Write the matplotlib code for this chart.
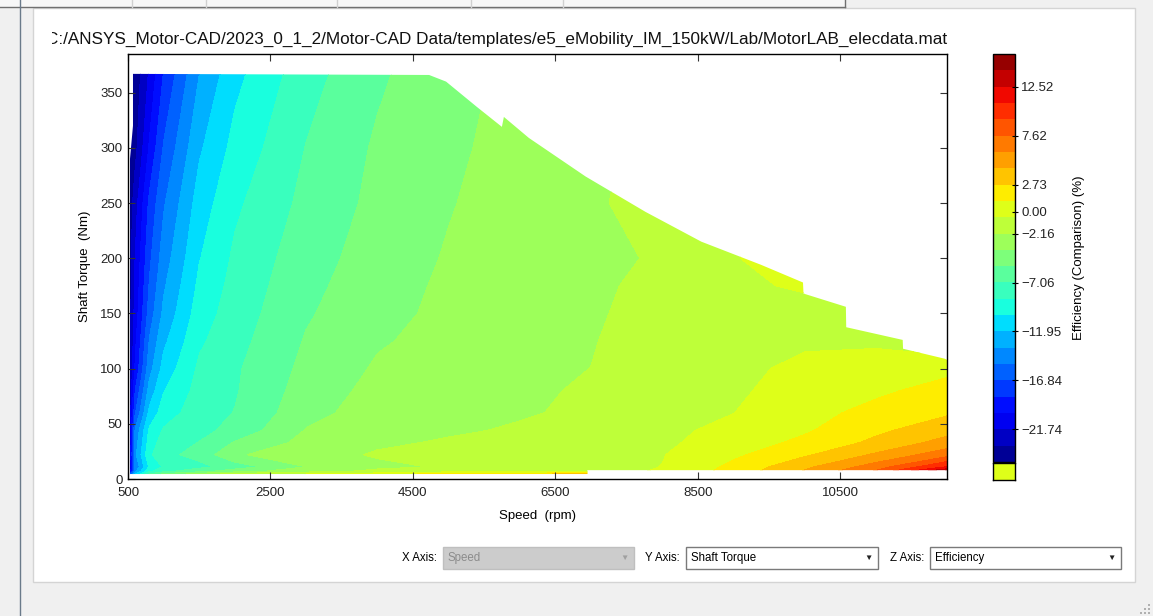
import numpy as np
import matplotlib
matplotlib.use('Agg')
import matplotlib.pyplot as plt
from matplotlib.patches import Rectangle, Polygon
from matplotlib.lines import Line2D
from matplotlib.transforms import Bbox, TransformedBbox

plt.rcParams['font.family'] = ['Liberation Sans', 'DejaVu Sans']

W, H = 1153, 616

title = 'C:/ANSYS_Motor-CAD/2023_0_1_2/Motor-CAD Data/templates/e5_eMobility_IM_150kW/Lab/MotorLAB_elecdata.mat'

# grid: speed (rpm) columns, torque (Nm) rows
speed = [500, 600, 800, 1000, 1500, 2000, 3000, 4000, 5000, 6000, 7000, 8000, 9000, 10000, 11000, 12000]
torque = [4.5, 7, 11, 22, 33, 44, 60, 80, 100, 125, 150, 175, 200, 250, 300, 367]

# efficiency comparison (%) per torque row
eff_t004 = [-20.0, -12.0, -7.0, -5.0, -3.0, -1.5, -0.5, 0.3, 1.8, 1.8, 4.0, -0.3, 2.0, 5.0, 8.5, 15.7]
eff_t007 = [-24.0, -14.0, -9.0, -7.5, -6.0, -4.5, -2.8, -1.8, -1.2, -1.0, -1.0, -0.4, 1.7, 4.5, 7.8, 14.5]
eff_t011 = [-24.5, -15.0, -10.0, -8.5, -7.5, -6.3, -3.8, -2.5, -2.0, -1.5, -1.2, -0.5, 1.5, 4.0, 6.8, 11.0]
eff_t022 = [-24.0, -14.0, -9.0, -7.5, -6.5, -4.0, -2.8, -2.0, -1.5, -1.3, -1.4, -0.6, 0.8, 2.5, 4.6, 7.0]
eff_t033 = [-24.3, -14.5, -9.5, -8.0, -7.0, -5.3, -3.3, -2.4, -2.0, -1.6, -1.7, -0.8, 0.2, 1.5, 3.1, 5.0]
eff_t044 = [-24.5, -15.0, -10.0, -8.5, -7.55, -6.5, -3.7, -2.7, -2.35, -2.0, -1.8, -0.9, -0.1, 0.9, 2.4, 3.8]
eff_t060 = [-24.7, -17.0, -11.5, -9.5, -7.8, -7.0, -4.35, -3.0, -2.7, -2.3, -1.9, -1.0, -0.55, 0.55, 1.6, 2.5]
eff_t080 = [-24.8, -18.5, -12.9, -10.4, -8.1, -7.2, -4.7, -3.3, -3.0, -2.4, -2.0, -1.1, -0.8, 0.2, 0.8, 1.7]
eff_t100 = [-24.9, -19.9, -14.2, -11.35, -8.4, -7.28, -5.0, -3.6, -3.2, -2.5, -2.15, -1.2, -1.0, -0.1, 0.2, 0.7]
eff_t125 = [-24.9, -20.5, -15.1, -12.3, -8.95, -7.6, -5.3, -3.95, -3.3, -2.6, -2.25, -1.4, -1.2, -0.8, -0.8, -1.8]
eff_t150 = [-24.9, -21.1, -16.1, -13.2, -9.5, -7.9, -5.6, -4.3, -3.4, -2.7, -2.35, -1.6, -1.4, -2.0, -1.0, -1.5]
eff_t175 = [-24.9, -21.4, -16.7, -13.8, -9.95, -8.15, -5.85, -4.5, -3.5, -2.75, -2.4, -1.8, -1.3, 0.0, 0.0, 0.0]
eff_t200 = [-24.9, -21.7, -17.2, -14.4, -10.4, -8.4, -6.1, -4.7, -3.65, -2.8, -2.4, -2.05, -0.8, 2.0, 3.0, 3.0]
eff_t250 = [-24.9, -22.5, -18.1, -15.4, -11.2, -9.0, -6.6, -5.0, -3.9, -3.0, -2.25, -1.9, -1.0, 0.5, 1.0, 1.5]
eff_t300 = [-24.9, -23.9, -19.9, -16.7, -12.2, -9.8, -7.0, -5.2, -4.1, -3.2, -2.4, -1.8, -1.3, -0.8, -0.4, 0.0]
eff_t367 = [-24.9, -24.5, -21.5, -18.4, -13.6, -10.8, -7.7, -5.7, -4.3, -3.4, -2.6, -2.0, -1.5, -1.0, -0.6, -0.3]

# operating envelope (speed, torque)
env_speed = [570, 4728, 4966, 5400, 5750, 5778, 6128, 6926, 7766, 8550, 9390, 9978, 9985,
             10580, 10585, 11378, 11383, 11966, 12000, 12000, 6950, 6950, 528, 528, 570]
env_torque = [367, 366, 360, 337, 319, 328, 309, 274, 242, 215, 194, 178, 168,
              156, 137.5, 126, 118, 109, 108, 8.0, 8.0, 4.5, 4.5, 290, 320]

levels = np.linspace(-25.0, 15.785, 26)
cbar_ticks = [12.52, 7.62, 2.73, 0.0, -2.16, -7.06, -11.95, -16.84, -21.74]
xticks = [500, 2500, 4500, 6500, 8500, 10500]
yticks = [0, 50, 100, 150, 200, 250, 300, 350]

Z = np.array([eff_t004, eff_t007, eff_t011, eff_t022, eff_t033, eff_t044, eff_t060, eff_t080,
              eff_t100, eff_t125, eff_t150, eff_t175, eff_t200, eff_t250, eff_t300, eff_t367])


def fr(x0, y0, x1, y1):
    return [x0 / W, 1 - y1 / H, (x1 - x0) / W, (y1 - y0) / H]


def ftext(x, y, s, **kw):
    return fig.text(x / W, 1 - y / H, s, **kw)


fig = plt.figure(figsize=(W / 100, H / 100), dpi=100)
fig.patch.set_facecolor('#f0f0f0')

# window chrome
fig.add_artist(Rectangle((33 / W, 1 - 582 / H), (1135 - 33) / W, (582 - 8) / H, transform=fig.transFigure,
                         facecolor='white', edgecolor='#d4d4d4', lw=1, zorder=-5))
fig.add_artist(Rectangle((0, 1 - 7 / H), 845 / W, 7 / H, transform=fig.transFigure,
                         facecolor='#f7f7f7', edgecolor='none', zorder=-4))
fig.add_artist(Line2D([0, 845 / W], [1 - 7 / H, 1 - 7 / H], transform=fig.transFigure, color='#707070', lw=1))
fig.add_artist(Line2D([845 / W, 845 / W], [1 - 7 / H, 1], transform=fig.transFigure, color='#707070', lw=1))
for xv in [132, 206, 337, 471, 563]:
    fig.add_artist(Line2D([xv / W, xv / W], [1 - 7 / H, 1], transform=fig.transFigure, color='#d0d0d0', lw=1))
fig.add_artist(Line2D([20 / W, 20 / W], [0, 1], transform=fig.transFigure, color='#6a7a8a', lw=1))
# resize grip
for gx, gy in [(1148, 604), (1148, 608), (1144, 608), (1148, 612), (1144, 612), (1140, 612)]:
    fig.add_artist(Rectangle((gx / W, 1 - (gy + 2) / H), 2 / W, 2 / H, transform=fig.transFigure,
                             facecolor='#b0b0b0', edgecolor='none'))

# main axes
ax = fig.add_axes(fr(128, 54, 947, 479))
cs = ax.contourf(speed, torque, Z, levels=levels, cmap='jet')
clip = Polygon(np.column_stack([env_speed, env_torque]), closed=True, transform=ax.transData,
               facecolor='none', edgecolor='none')
cs.set_clip_path(clip)
ax.set_xlim(500, 12000)
ax.set_ylim(0, 385)
ax.set_xticks(xticks)
ax.set_yticks(yticks)
ax.tick_params(direction='in', length=5, width=0.8, top=True, right=True, labelsize=9.5,
               labelcolor='#222222', color='#333333')
ax.tick_params(axis='x', pad=6)
ax.tick_params(axis='y', pad=4)
for sp in ax.spines.values():
    sp.set_linewidth(1.0)
ax.set_xlabel('Speed  (rpm)', fontsize=9.5, labelpad=8)
ax.set_ylabel('Shaft Torque  (Nm)', fontsize=9.5, labelpad=6.5)

t = ftext(497, 39, title, ha='center', va='center', fontsize=12.3, color='#111111')
t.set_clip_box(TransformedBbox(Bbox([[52 / W, 0], [1, 1]]), fig.transFigure))
t.set_clip_on(True)

# colour bar
cax = fig.add_axes(fr(993, 54, 1015, 462))
cb = fig.colorbar(cs, cax=cax, ticks=cbar_ticks)
cb.set_ticklabels([('%.2f' % v).replace('-', '\u2212') for v in cbar_ticks])
cb.outline.set_linewidth(1.0)
cax.tick_params(direction='inout', length=5, width=0.8, labelsize=9.5, labelcolor='#222222', pad=2)
cb.set_label('Efficiency (Comparison) (%)', fontsize=9.5, labelpad=8)
bax = fig.add_axes(fr(993, 463, 1015, 480))
bax.set_facecolor(plt.get_cmap('jet')((15 + 0.5) / 25))
bax.set_xticks([])
bax.set_yticks([])
for sp in bax.spines.values():
    sp.set_linewidth(1.0)

# axis selector widgets
def combo(x0, x1, label, text, enabled=True):
    fc = 'white' if enabled else '#cccccc'
    ec = '#7a7a7a' if enabled else '#bfbfbf'
    tc = '#000000' if enabled else '#8c8c8c'
    fig.add_artist(Rectangle((x0 / W, 1 - 569 / H), (x1 - x0) / W, 22 / H, transform=fig.transFigure,
                             facecolor=fc, edgecolor=ec, lw=1))
    ftext(x0 + 5, 558, text, ha='left', va='center', fontsize=8.3, color=tc)
    ftext(x1 - 10, 558, '\u25BC', ha='center', va='center', fontsize=6, color='#222222' if enabled else '#a0a0a0')
    ftext(x0 - 6, 558, label, ha='right', va='center', fontsize=8.3, color='#000000')


combo(443, 634, 'X Axis:', 'Speed', enabled=False)
combo(686, 878, 'Y Axis:', 'Shaft Torque')
combo(930, 1121, 'Z Axis:', 'Efficiency')

fig.savefig('out.png', dpi=100, facecolor=fig.get_facecolor())
